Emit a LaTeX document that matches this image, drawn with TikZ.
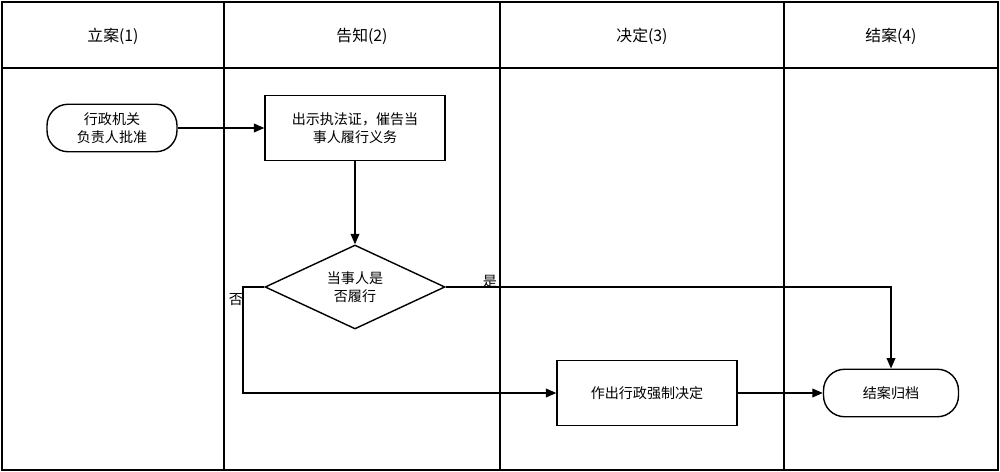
\documentclass[tikz,border=0pt]{standalone}
\usepackage{fontspec}
\setmainfont{Noto Sans CJK SC}
\usetikzlibrary{arrows.meta,shapes.geometric,positioning}
\tikzset{
  lane/.style={draw, thick},
  stadium/.style={draw, thick, rounded corners=12pt, minimum width=2.6cm, minimum height=0.95cm, align=center, font=\fontsize{8}{10}\selectfont},
  box/.style={draw, thick, minimum width=3.6cm, minimum height=1.3cm, align=center, font=\fontsize{8}{10}\selectfont},
  choice/.style={draw, thick, diamond, aspect=2.15, minimum width=3.6cm, minimum height=1.68cm, inner sep=0pt, align=center, font=\fontsize{8}{10}\selectfont},
  flow/.style={thick, -{Triangle[length=6pt,width=5pt]}},
  head/.style={font=\fontsize{9}{11}\selectfont}
}
\begin{document}
\begin{tikzpicture}[x=0.02cm, y=-0.02cm]
    \useasboundingbox (0,0) rectangle (1000,472);
    %% lanes
    \draw[lane] (2,2) rectangle (998,470);
    \draw[lane] (2,68) -- (998,68);
    \foreach \x in {224,500,784}
        \draw[lane] (\x,2) -- (\x,470);
    \node[head] (h1) at (113,36) {立案(1)};
    \node[head] (h2) at (362,36) {告知(2)};
    \node[head] (h3) at (642,36) {决定(3)};
    \node[head] (h4) at (891,36) {结案(4)};
    %% nodes
    \node[stadium] (start) at (112,128) {行政机关\\负责人批准};
    \node[box] (notice) at (355,128) {出示执法证，催告当\\事人履行义务};
    \node[choice] (check) at (355,287) {当事人是\\否履行};
    \node[box] (decide) at (647,393) {作出行政强制决定};
    \node[stadium, minimum width=2.7cm] (close) at (891,393) {结案归档};
    \coordinate (yes) at (891,287);
    \coordinate (no1) at (243,287);
    \coordinate (no2) at (243,393);
    %% connectors
    \draw[flow] (start) -- (notice);
    \draw[flow] (notice) -- (check);
    \draw[flow] (check.east) -- (yes) -- (close);
    \draw[flow] (check.west) -- (no1) -- (no2) -- (decide);
    \draw[flow] (decide) -- (close);
    \node[font=\fontsize{8}{10}\selectfont] (lyes) at (490,281) {是};
    \node[font=\fontsize{8}{10}\selectfont] (lno) at (236,300) {否};
\end{tikzpicture}
\end{document}
